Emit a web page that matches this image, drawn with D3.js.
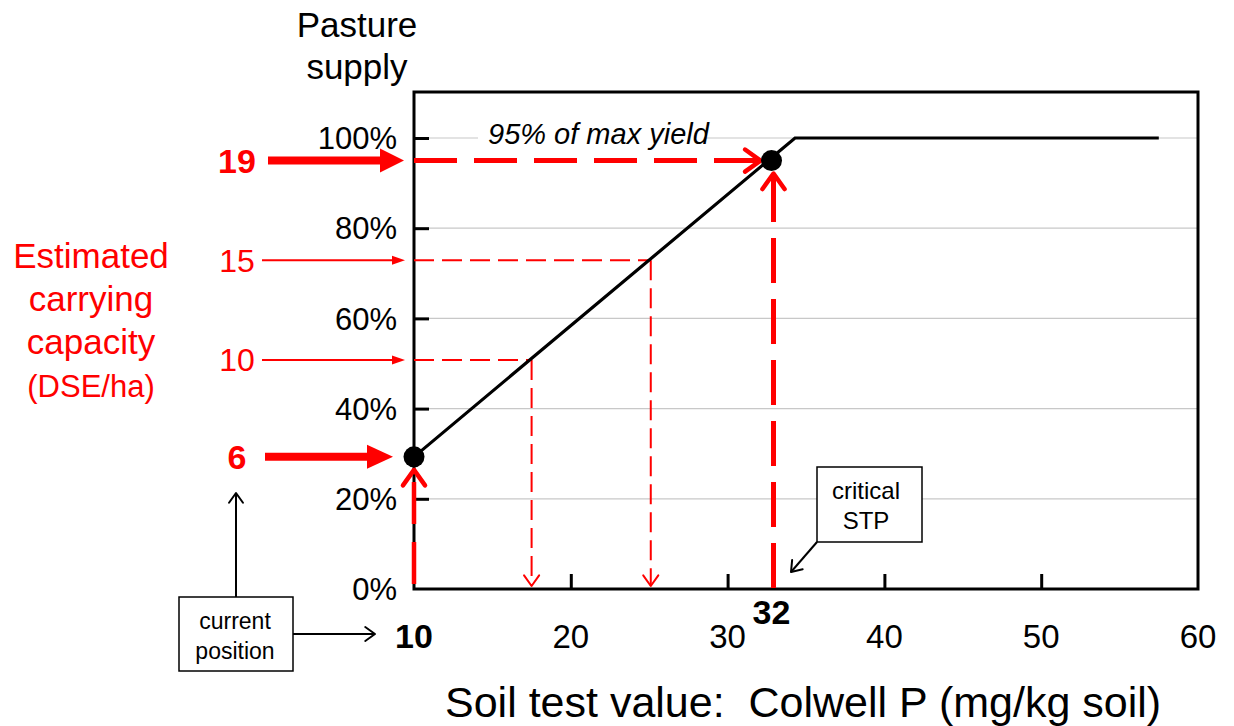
<!DOCTYPE html>
<html>
<head>
<meta charset="utf-8">
<script src="https://cdn.jsdelivr.net/npm/d3@7"></script>
<style>
  body { margin: 0; background: #fff; }
  svg { display: block; font-family: "Liberation Sans", Arial, sans-serif; }
</style>
</head>
<body>
<script>
// response curve knots (soil P, % of pasture supply)
const curveP = [10, 34.3, 57.5];
const curveSupply = [29.3, 100, 100];
// carrying capacity read-offs
const dseLabels = [6, 10, 15, 19];
const dseSupply = [29.3, 50.8, 72.9, 95];
const dseSoilP = [10, 17.5, 25.1, 32.8];
const xTicks = [10, 20, 30, 40, 50, 60];
const yTicks = [0, 20, 40, 60, 80, 100];

const width = 1234, height = 726;
const red = "#ff0000";

var x = d3.scaleLinear().domain([10, 60]).range([414, 1198]);
var y = d3.scaleLinear().domain([0, 100]).range([589, 138]);
const plotTop = 92;

var svg = d3.select("body").append("svg")
  .attr("width", width).attr("height", height);

// gridlines
svg.append("g").selectAll("line")
  .data(yTicks.filter(d => d > 0))
  .enter().append("line")
  .attr("x1", x(10)).attr("x2", x(60))
  .attr("y1", d => y(d)).attr("y2", d => y(d))
  .attr("stroke", "#c8c8c8").attr("stroke-width", 1.2);

// plot frame
svg.append("rect")
  .attr("x", x(10)).attr("y", plotTop)
  .attr("width", x(60) - x(10)).attr("height", y(0) - plotTop)
  .attr("fill", "none").attr("stroke", "#000").attr("stroke-width", 3);

// inward ticks via d3 axes
var xAxis = d3.axisBottom(x).tickValues(xTicks.slice(1, 5)).tickSizeInner(-15).tickSizeOuter(0).tickFormat("");
var yAxis = d3.axisLeft(y).tickValues(yTicks.slice(1)).tickSizeInner(-15).tickSizeOuter(0).tickFormat("");
svg.append("g").attr("transform", "translate(0," + y(0) + ")").call(xAxis)
  .call(g => g.select(".domain").remove())
  .selectAll("line").attr("stroke", "#000").attr("stroke-width", 3);
svg.append("g").attr("transform", "translate(" + x(10) + ",0)").call(yAxis)
  .call(g => g.select(".domain").remove())
  .selectAll("line").attr("stroke", "#000").attr("stroke-width", 3);

// tick labels
svg.append("g").selectAll("text")
  .data(yTicks).enter().append("text")
  .attr("x", 397).attr("y", d => y(d)).attr("dy", "0.36em")
  .attr("text-anchor", "end").attr("font-size", 31)
  .text(d => d + "%");
svg.append("g").selectAll("text")
  .data(xTicks).enter().append("text")
  .attr("x", d => x(d)).attr("y", 648)
  .attr("text-anchor", "middle")
  .attr("font-size", d => d === 10 ? 34 : 33)
  .attr("font-weight", d => d === 10 ? "bold" : "normal")
  .text(d => d);
svg.append("text")
  .attr("x", x(dseSoilP[3])).attr("y", 624)
  .attr("text-anchor", "middle").attr("font-size", 34).attr("font-weight", "bold")
  .text("32");

// 95% label with white backing
svg.append("rect").attr("x", 478).attr("y", 116).attr("width", 226).attr("height", 36).attr("fill", "#fff");
svg.append("text")
  .attr("x", 488).attr("y", 144)
  .attr("font-size", 29).attr("font-style", "italic")
  .text("95% of max yield");

// helpers for arrow heads
function openHead(g, tx, ty, dir, len, col, w) {
  // dir: angle pointing direction (radians)
  const a = 0.62;
  const p1 = [tx - len * Math.cos(dir - a), ty - len * Math.sin(dir - a)];
  const p2 = [tx - len * Math.cos(dir + a), ty - len * Math.sin(dir + a)];
  g.append("path")
    .attr("d", "M" + p1 + "L" + tx + "," + ty + "L" + p2)
    .attr("fill", "none").attr("stroke", col).attr("stroke-width", w)
    .attr("stroke-linecap", "round").attr("stroke-linejoin", "round");
}
function solidArrow(g, x0, x1, yy, shaft, headLen, headHalf) {
  g.append("line").attr("x1", x0).attr("x2", x1 - headLen + 1)
    .attr("y1", yy).attr("y2", yy)
    .attr("stroke", red).attr("stroke-width", shaft);
  g.append("path")
    .attr("d", "M" + (x1 - headLen) + "," + (yy - headHalf) + "L" + x1 + "," + yy + "L" + (x1 - headLen) + "," + (yy + headHalf) + "Z")
    .attr("fill", red);
}

var ann = svg.append("g");

// thin read-offs (10 and 15 DSE)
[1, 2].forEach(i => {
  const yy = y(dseSupply[i]), xx = x(dseSoilP[i]);
  solidArrow(ann, 262, 405, yy, 2, 13, 4.5);
  ann.append("line").attr("x1", x(10)).attr("x2", xx).attr("y1", yy).attr("y2", yy)
    .attr("stroke", red).attr("stroke-width", 2).attr("stroke-dasharray", "20,8");
  ann.append("line").attr("x1", xx).attr("x2", xx).attr("y1", yy).attr("y2", y(0) - 3)
    .attr("stroke", red).attr("stroke-width", 2).attr("stroke-dasharray", "20,8");
  openHead(ann, xx, y(0) - 3, Math.PI / 2, 13, red, 2);
});

// response curve
var line = d3.line().x((d, i) => x(curveP[i])).y(d => y(d));
svg.append("path").datum(curveSupply)
  .attr("d", line).attr("fill", "none")
  .attr("stroke", "#000").attr("stroke-width", 3.2);

// thick read-offs: 6 DSE at current position, 19 DSE at critical STP
const yCur = y(dseSupply[0]), yCrit = y(dseSupply[3]), xCrit = x(dseSoilP[3]);
solidArrow(ann, 265, 393, yCur, 8, 26, 12);
solidArrow(ann, 268, 404, yCrit, 8, 24, 12);

svg.append("line").attr("x1", x(10)).attr("x2", xCrit - 12).attr("y1", yCrit).attr("y2", yCrit)
  .attr("stroke", red).attr("stroke-width", 5).attr("stroke-dasharray", "43,17");
openHead(svg, xCrit - 11, yCrit, 0, 19, red, 4.5);

svg.append("line").attr("x1", xCrit + 2).attr("x2", xCrit + 2).attr("y1", y(0) - 1).attr("y2", yCrit + 14)
  .attr("stroke", red).attr("stroke-width", 5).attr("stroke-dasharray", "45,16");
openHead(svg, xCrit + 2, yCrit + 13, -Math.PI / 2, 19, red, 4.5);

svg.append("line").attr("x1", x(10)).attr("x2", x(10)).attr("y1", y(0) - 5).attr("y2", yCur + 14)
  .attr("stroke", red).attr("stroke-width", 4.5).attr("stroke-dasharray", "42,18");
openHead(svg, x(10), yCur + 13, -Math.PI / 2, 19, red, 4.5);

// points
svg.append("g").selectAll("circle")
  .data([0, 3]).enter().append("circle")
  .attr("cx", i => x(dseSoilP[i])).attr("cy", i => y(dseSupply[i]))
  .attr("r", 10.5).attr("fill", "#000");

// DSE labels
svg.append("g").selectAll("text")
  .data(dseLabels).enter().append("text")
  .attr("x", 237).attr("y", (d, i) => y(dseSupply[i])).attr("dy", "0.36em")
  .attr("text-anchor", "middle").attr("fill", red)
  .attr("font-size", (d, i) => (i === 0 || i === 3) ? 34 : 32)
  .attr("font-weight", (d, i) => (i === 0 || i === 3) ? "bold" : "normal")
  .text(d => d);

// axis titles
svg.append("text").attr("text-anchor", "middle").attr("font-size", 35)
  .selectAll("tspan").data(["Pasture", "supply"]).enter().append("tspan")
  .attr("x", 357).attr("y", (d, i) => 37 + i * 42).text(d => d);

svg.append("text").attr("text-anchor", "middle").attr("fill", red)
  .selectAll("tspan").data(["Estimated", "carrying", "capacity", "(DSE/ha)"]).enter().append("tspan")
  .attr("x", 91).attr("y", (d, i) => 268 + i * 43)
  .attr("font-size", (d, i) => i === 3 ? 31 : 35)
  .text(d => d);

svg.append("text").attr("x", 445).attr("y", 717)
  .attr("font-size", 43).attr("xml:space", "preserve")
  .text("Soil test value:  Colwell P (mg/kg soil)");

// current position callout
svg.append("rect").attr("x", 179).attr("y", 597).attr("width", 114).attr("height", 74)
  .attr("fill", "#fff").attr("stroke", "#000").attr("stroke-width", 1.5);
svg.append("text").attr("font-size", 23).attr("text-anchor", "middle")
  .selectAll("tspan").data(["current", "position"]).enter().append("tspan")
  .attr("x", 235).attr("y", (d, i) => 629 + i * 30).text(d => d);
svg.append("line").attr("x1", 236).attr("x2", 236).attr("y1", 597).attr("y2", 494)
  .attr("stroke", "#000").attr("stroke-width", 2);
openHead(svg, 236, 493, -Math.PI / 2, 12, "#000", 2);
svg.append("line").attr("x1", 293).attr("x2", 375).attr("y1", 634).attr("y2", 634)
  .attr("stroke", "#000").attr("stroke-width", 2);
openHead(svg, 375, 634, 0, 12, "#000", 2);

// critical STP callout
svg.append("rect").attr("x", 817).attr("y", 467).attr("width", 105).attr("height", 75)
  .attr("fill", "#fff").attr("stroke", "#000").attr("stroke-width", 1.5);
svg.append("text").attr("font-size", 24).attr("text-anchor", "middle")
  .selectAll("tspan").data(["critical", "STP"]).enter().append("tspan")
  .attr("x", 866).attr("y", (d, i) => 499 + i * 30).text(d => d);
svg.append("line").attr("x1", 817).attr("y1", 542).attr("x2", 791).attr("y2", 572)
  .attr("stroke", "#000").attr("stroke-width", 2);
openHead(svg, 791, 572, Math.atan2(30, -26), 12, "#000", 2);
</script>
</body>
</html>
